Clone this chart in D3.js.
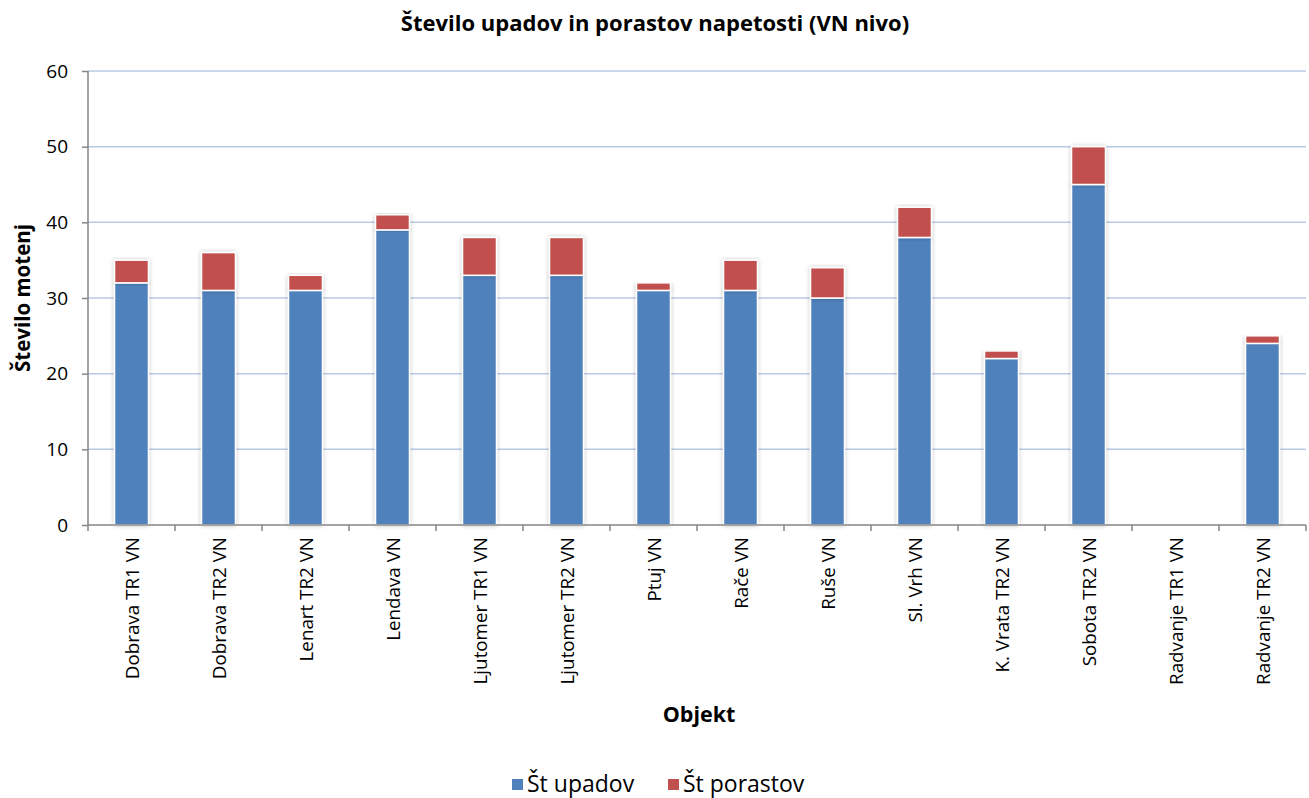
<!DOCTYPE html>
<html><head><meta charset="utf-8">
<script src="https://cdn.jsdelivr.net/npm/d3@7"></script>
<style>body{margin:0;background:#fff;font-family:"Open Sans","Liberation Sans",sans-serif;}</style>
</head><body><svg id="c" width="1309" height="798"></svg>
<script>
const categories = ["Dobrava TR1 VN","Dobrava TR2 VN","Lenart TR2 VN","Lendava VN","Ljutomer TR1 VN","Ljutomer TR2 VN","Ptuj VN","Rače VN","Ruše VN","Sl. Vrh VN","K. Vrata TR2 VN","Sobota TR2 VN","Radvanje TR1 VN","Radvanje TR2 VN"];
const upadov =   [32,31,31,39,33,33,31,31,30,38,22,45,0,24];
const porastov = [3,5,2,2,5,5,1,4,4,4,1,5,0,1];
const seriesNames = ["Št upadov","Št porastov"];
const colors = ["#4f81bd","#c0504d"];
const yTicks = [0,10,20,30,40,50,60];

const svg = d3.select("#c");
const L=88, R=1306, T=71, B=525;
const x = d3.scaleBand().domain(categories).range([L,R]).paddingInner(0.61).paddingOuter(0.305);
const y = d3.scaleLinear().domain([0,60]).range([B,T]);

const defs = svg.append("defs");
const f = defs.append("filter").attr("id","sh").attr("x","-30%").attr("y","-10%").attr("width","160%").attr("height","120%");
f.append("feDropShadow").attr("dx",0).attr("dy",0).attr("stdDeviation",2).attr("flood-color","#000").attr("flood-opacity",0.25);

// gridlines
svg.append("g").selectAll("line").data(yTicks.filter(d=>d>0)).join("line")
  .attr("x1",L).attr("x2",R).attr("y1",d=>y(d)).attr("y2",d=>y(d))
  .attr("stroke","#b9cae6").attr("stroke-width",1.5);

// bars
const stackData = categories.map((c,i)=>({c, a:upadov[i], b:porastov[i]}));
const stack = d3.stack().keys(["a","b"])(stackData);
svg.append("g").selectAll("g").data(stack).join("g").attr("fill",(d,i)=>colors[i])
  .selectAll("rect").data(d=>d.filter(s=>s[1]-s[0]>0)).join("rect")
  .attr("x",d=>x(d.data.c)).attr("width",x.bandwidth())
  .attr("y",d=>y(d[1])).attr("height",d=>y(d[0])-y(d[1]))
  .attr("stroke","#fff").attr("stroke-width",1.5).attr("filter","url(#sh)");

// y axis
const ya = svg.append("g").attr("transform",`translate(${L},0)`)
  .call(d3.axisLeft(y).tickValues(yTicks).tickSize(6).tickPadding(14));
ya.select(".domain").attr("stroke","#868686").attr("stroke-width",1.5).attr("d",`M0,${T}V${B}`);
ya.selectAll(".tick line").attr("stroke","#868686").attr("stroke-width",1.5);
ya.selectAll("text").attr("font-size",19).attr("fill","#000").attr("font-family","Open Sans");

// x axis
const xa = svg.append("g").attr("transform",`translate(0,${B})`);
xa.append("line").attr("x1",L).attr("x2",R).attr("stroke","#868686").attr("stroke-width",1.5);
const bounds = categories.map(c=>x(c)-x.step()*x.paddingInner()/2).concat([R]);
xa.selectAll("line.t").data(bounds).join("line").attr("class","t")
  .attr("x1",d=>d).attr("x2",d=>d).attr("y1",0).attr("y2",6).attr("stroke","#868686").attr("stroke-width",1.5);
xa.selectAll("text").data(categories).join("text")
  .attr("transform",d=>`translate(${x(d)+x.bandwidth()/2+7},12) rotate(-90)`)
  .attr("text-anchor","end").attr("font-size",18.8).attr("fill","#000").text(d=>d);

// titles
svg.append("text").attr("x",655).attr("y",31).attr("text-anchor","middle")
  .attr("font-size",22).attr("font-weight","bold").text("Število upadov in porastov napetosti (VN nivo)");
svg.append("text").attr("transform","translate(30,298) rotate(-90)").attr("text-anchor","middle")
  .attr("font-size",20.5).attr("font-weight","bold").text("Število motenj");
svg.append("text").attr("x",699).attr("y",722).attr("text-anchor","middle")
  .attr("font-size",21.5).attr("font-weight","bold").text("Objekt");

// legend
const lg = svg.append("g");
const lx = [512,668];
seriesNames.forEach((n,i)=>{
  lg.append("rect").attr("x",lx[i]).attr("y",779).attr("width",11).attr("height",11).attr("fill",colors[i]);
  lg.append("text").attr("x",lx[i]+15).attr("y",792).attr("font-size",23).text(n);
});
</script></body></html>
